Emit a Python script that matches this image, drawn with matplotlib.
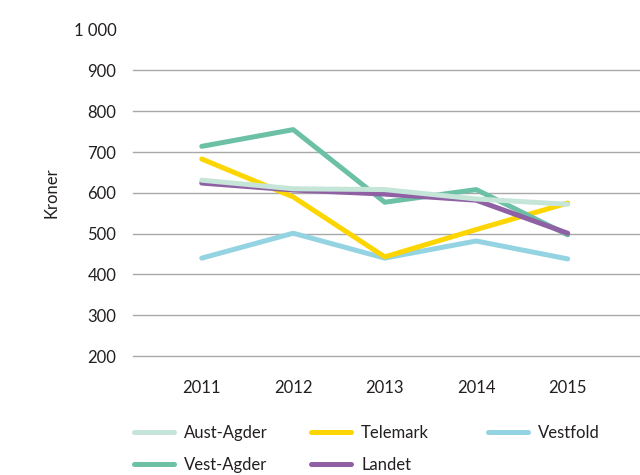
import numpy as np
import matplotlib.pyplot as plt

plt.rcParams['font.family'] = ['Lato', 'DejaVu Sans']

years = [2011, 2012, 2013, 2014, 2015]
aust_agder = [631, 610, 608, 585, 572]
telemark = [683, 590, 443, 510, 575]
vestfold = [440, 501, 440, 482, 438]
vest_agder = [714, 755, 577, 608, 497]
landet = [624, 607, 597, 582, 501]

txt = '#231f20'

fig = plt.figure(figsize=(6.4, 4.75), dpi=100)
ax = fig.add_axes([0.208, 0.2505, 0.792, 0.687])

# draw order so the light lines sit on top
l_vf, = ax.plot(years, vestfold, color='#94d3e2', lw=3.6, solid_capstyle='round', label='Vestfold')
l_tm, = ax.plot(years, telemark, color='#fdd500', lw=3.6, solid_capstyle='round', label='Telemark')
l_va, = ax.plot(years, vest_agder, color='#6cc0a5', lw=3.6, solid_capstyle='round', label='Vest-Agder')
l_la, = ax.plot(years, landet, color='#9060a5', lw=3.6, solid_capstyle='round', label='Landet')
l_aa, = ax.plot(years, aust_agder, color='#c5e5d8', lw=3.6, solid_capstyle='round', label='Aust-Agder')

ax.set_xlim(2010.25, 2015.79)
ax.set_ylim(200, 1000)
ax.set_yticks(range(200, 1001, 100))
ax.set_yticklabels([str(v) if v < 1000 else '1 000' for v in range(200, 1001, 100)])
ax.set_xticks(years)
ax.set_xticklabels([str(y) for y in years])

ax.grid(axis='y', color='#a8a8a8', lw=1)
for g in ax.get_ygridlines():
    g.set_clip_on(False)
ax.get_ygridlines()[-1].set_visible(False)
ax.set_axisbelow(True)
for s in ax.spines.values():
    s.set_visible(False)
ax.tick_params(length=0, labelsize=12, colors=txt)
ax.tick_params(axis='y', pad=12)
ax.tick_params(axis='x', pad=17)
ax.set_ylabel('Kroner', fontsize=12, color=txt, labelpad=10)

# three legend columns at fixed positions
cols = [([l_aa, l_va], 0.21), ([l_tm, l_la], 0.486), ([l_vf], 0.763)]
for hs, x in cols:
    fig.legend(handles=hs, loc='upper left', bbox_to_anchor=(x, 0.105),
               frameon=False, fontsize=12, labelcolor=txt, handlelength=2.4,
               handletextpad=0.6, labelspacing=0.95, borderpad=0, borderaxespad=0)

fig.savefig('out.png', dpi=100)
